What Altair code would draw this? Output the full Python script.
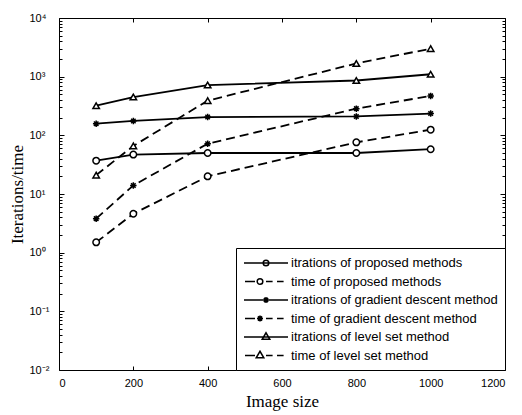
import altair as alt
import pandas as pd

# ---- data ----
image_sizes = [100, 200, 400, 800, 1000]
prop_iter = [37, 47, 50, 50, 58]
prop_time = [1.5, 4.6, 20, 76, 125]
grad_iter = [158, 176, 205, 210, 235]
grad_time = [3.8, 14, 72, 285, 470]
level_iter = [320, 450, 720, 860, 1100]
level_time = [21, 66, 390, 1680, 3000]

series_names = [
    "itrations of proposed methods",
    "\u00a0time of proposed methods",
    "itrations of gradient descent method",
    "\u00a0time of gradient descent method",
    "itrations of level set method",
    "\u00a0time of level set method",
]
series_values = [prop_iter, prop_time, grad_iter, grad_time, level_iter, level_time]
series_kind = ["solid", "dashed", "solid", "dashed", "solid", "dashed"]

x_ticks = [0, 200, 400, 600, 800, 1000, 1200]
y_major = [0.01, 0.1, 1, 10, 100, 1000, 10000]
y_minor = [m * 10.0 ** k for k in range(-2, 4) for m in range(2, 10)]

rows = []
for name, vals, kind in zip(series_names, series_values, series_kind):
    for s, v in zip(image_sizes, vals):
        rows.append({"size": s, "value": v, "series": name, "kind": kind})
df = pd.DataFrame(rows)

# ---- marker / legend symbol shapes ----
ASTER = "M-1,0L1,0M0,-1L0,1M-0.7,-0.7L0.7,0.7M-0.7,0.7L0.7,-0.7"
marker_shapes = ["circle", "circle", ASTER, ASTER, "triangle-up", "triangle-up"]
marker_sizes = [42, 42, 70, 70, 80, 80]

# legend glyphs are drawn in pixel units, then converted to symbol units
LEG_SIZE = 196          # sqrt -> 14 px, unit = 7 px
U = 7.0
C0 = 7.0                # symbol centre from entry left


def ux(p):
    return (p - C0) / U


def uy(p):
    return p / U


def seg(a, b):
    return f"M{ux(a):.3f},0L{ux(b):.3f},0"


def circ(c, r=2.8):
    return (f"M{ux(c - r):.3f},0A{uy(r):.3f},{uy(r):.3f} 0 1,1 {ux(c + r):.3f},0"
            f"A{uy(r):.3f},{uy(r):.3f} 0 1,1 {ux(c - r):.3f},0Z")


def star(c, r=3.0):
    d = r * 0.7
    return (f"M{ux(c - r):.3f},0L{ux(c + r):.3f},0"
            f"M{ux(c):.3f},{uy(-r):.3f}L{ux(c):.3f},{uy(r):.3f}"
            f"M{ux(c - d):.3f},{uy(-d):.3f}L{ux(c + d):.3f},{uy(d):.3f}"
            f"M{ux(c - d):.3f},{uy(d):.3f}L{ux(c + d):.3f},{uy(-d):.3f}")


def tri(c):
    return (f"M{ux(c - 3.8):.3f},{uy(2.3):.3f}L{ux(c + 3.8):.3f},{uy(2.3):.3f}"
            f"L{ux(c):.3f},{uy(-4.2):.3f}Z")


SOLID = seg(0, 44)
DASHED = seg(1, 11) + seg(22, 28.6) + seg(33, 39.6)
legend_shapes = [
    SOLID + circ(22), DASHED + circ(16),
    SOLID + star(22), DASHED + star(16),
    SOLID + tri(22), DASHED + tri(16),
]

xscale = alt.Scale(domain=[0, 1200], nice=False, zero=False)
yscale = alt.Scale(type="log", domain=[0.01, 10000], nice=False)

sup_expr = ("['10\u207b\u00b2','10\u207b\u00b9','10\u2070','10\u00b9','10\u00b2',"
            "'10\u00b3','10\u2074'][round(log(datum.value)/LN10)+2]")

base = alt.Chart(df)

solid = base.transform_filter(alt.datum.kind == "solid").mark_line(
    color="black", strokeWidth=1.8
).encode(
    x=alt.X("size:Q", scale=xscale,
            axis=alt.Axis(orient="bottom", values=x_ticks, tickSize=4, offset=-4,
                          labelPadding=7.5, title="Image size", titlePadding=5,
                          format="d")),
    y=alt.Y("value:Q", scale=yscale,
            axis=alt.Axis(orient="left", values=y_major, tickSize=5, offset=-5,
                          labelAlign="left", labelPadding=30, labelExpr=sup_expr,
                          title="Iterations/time", titlePadding=3)),
    detail="series:N",
)

dashed = base.transform_filter(alt.datum.kind == "dashed").mark_line(
    color="black", strokeWidth=1.8, strokeDash=[9, 5]
).encode(
    x=alt.X("size:Q", scale=xscale,
            axis=alt.Axis(orient="top", values=x_ticks, tickSize=4, offset=-4,
                          labels=False, title=None)),
    y=alt.Y("value:Q", scale=yscale,
            axis=alt.Axis(orient="right", values=y_major, tickSize=5, offset=-5,
                          labels=False, title=None)),
    detail="series:N",
)

points = base.mark_point(
    filled=False, color="black", strokeWidth=1.5, opacity=1, fill="white", fillOpacity=1
).encode(
    x=alt.X("size:Q", scale=xscale, axis=None),
    y=alt.Y("value:Q", scale=yscale,
            axis=alt.Axis(orient="left", values=y_minor, tickSize=3, offset=-3,
                          labels=False, title=None)),
    shape=alt.Shape("series:N", sort=series_names,
                    scale=alt.Scale(domain=series_names, range=marker_shapes),
                    legend=None),
    size=alt.Size("series:N", sort=series_names,
                  scale=alt.Scale(domain=series_names, range=marker_sizes),
                  legend=None),
)

legend_layer = base.mark_point(opacity=0, color="black").encode(
    x=alt.X("size:Q", scale=xscale, axis=None),
    y=alt.Y("value:Q", scale=yscale,
            axis=alt.Axis(orient="right", values=y_minor, tickSize=3, offset=-3,
                          labels=False, title=None)),
    shape=alt.Shape("series:N", sort=series_names,
                    scale=alt.Scale(domain=series_names, range=legend_shapes),
                    legend=alt.Legend(
                        title=None, orient="bottom-right", offset=0,
                        strokeColor="black", fillColor="white", padding=7,
                        symbolSize=LEG_SIZE, symbolStrokeColor="black",
                        symbolFillColor="white", symbolStrokeWidth=1.5,
                        symbolOpacity=1, labelFont="Liberation Sans",
                        labelFontSize=13, labelColor="black", rowPadding=3.5,
                        labelOffset=32, labelLimit=400,
                    )),
)

chart = alt.layer(solid, dashed, points, legend_layer).resolve_scale(
    shape="independent", size="independent"
).resolve_axis(
    x="independent", y="independent"
).properties(
    width=446, height=352,
    padding={"left": 0, "top": 4, "right": 5, "bottom": 5},
    background="white",
).configure_view(
    stroke="black", strokeWidth=1
).configure_axis(
    grid=False, domain=False, tickColor="black", tickWidth=1,
    labelFont="Liberation Sans", labelFontSize=11, labelColor="black",
    titleFont="Liberation Serif", titleFontSize=17, titleFontWeight="normal",
    titleColor="black",
)

chart.save("out.html", embed_options={"renderer": "svg", "actions": False})
